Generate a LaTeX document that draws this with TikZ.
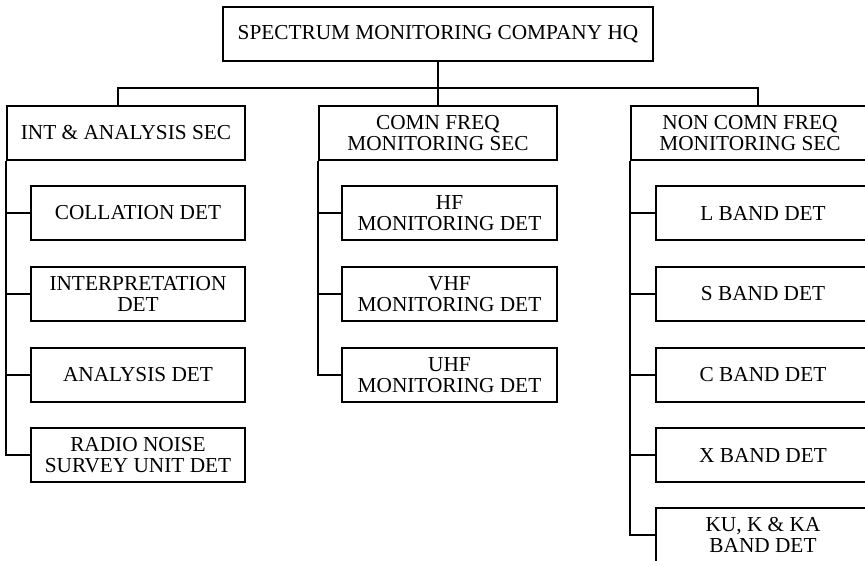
\documentclass[tikz,border=0pt]{standalone}
\usepackage{fontspec}
\setmainfont{Liberation Serif}
\begin{document}
\begin{tikzpicture}[x=1pt,y=-1pt,
  box/.style={draw,line width=2pt,rectangle,inner sep=0pt,align=center,
    font=\fontsize{21.3}{21.5}\selectfont,minimum height=54pt},
  hqbox/.style={box,minimum width=430pt},
  secbox/.style={box,minimum width=238pt},
  detbox/.style={box,minimum width=214pt,minimum height=54pt},
  link/.style={line width=2pt}]
\useasboundingbox (0,0) rectangle (865,560);
\clip (0,0) rectangle (865,560);
\node[hqbox] (hq) at (438,34) {SPECTRUM MONITORING COMPANY HQ};
\node[secbox] (int) at (126,133) {INT \& ANALYSIS SEC};
\node[secbox] (comn) at (438,133) {COMN FREQ\\MONITORING SEC};
\node[secbox] (non) at (750,133) {NON COMN FREQ\\MONITORING SEC};
\coordinate (busl) at (118,88);
\coordinate (busr) at (758,88);
\draw[link] (hq.south) -- (comn.north);
\draw[link] (busl |- int.north) -- (busl) -- (busr) -- (busr |- non.north);
% INT children
\node[detbox] (i1) at (138,213) {COLLATION DET};
\node[detbox] (i2) at (138,294) {INTERPRETATION\\DET};
\node[detbox] (i3) at (138,375) {ANALYSIS DET};
\node[detbox] (i4) at (138,455) {RADIO NOISE\\SURVEY UNIT DET};
% COMN children
\node[detbox,minimum width=215pt] (c1) at (449.5,213) {HF\\MONITORING DET};
\node[detbox,minimum width=215pt] (c2) at (449.5,294) {VHF\\MONITORING DET};
\node[detbox,minimum width=215pt] (c3) at (449.5,375) {UHF\\MONITORING DET};
% NON children
\node[detbox] (n1) at (763,213) {L BAND DET};
\node[detbox] (n2) at (763,294) {S BAND DET};
\node[detbox] (n3) at (763,375) {C BAND DET};
\node[detbox] (n4) at (763,455) {X BAND DET};
\node[detbox] (n5) at (763,535) {KU, K \& KA\\BAND DET};
% connectors
\draw[link] (int.south west) |- (i4.west);
\foreach \c in {i1,i2,i3} \draw[link] (int.south west |- \c.west) -- (\c.west);
\draw[link] (comn.south west) |- (c3.west);
\foreach \c in {c1,c2} \draw[link] (comn.south west |- \c.west) -- (\c.west);
\draw[link] (non.south west) |- (n5.west);
\foreach \c in {n1,n2,n3,n4} \draw[link] (non.south west |- \c.west) -- (\c.west);
\end{tikzpicture}
\end{document}
